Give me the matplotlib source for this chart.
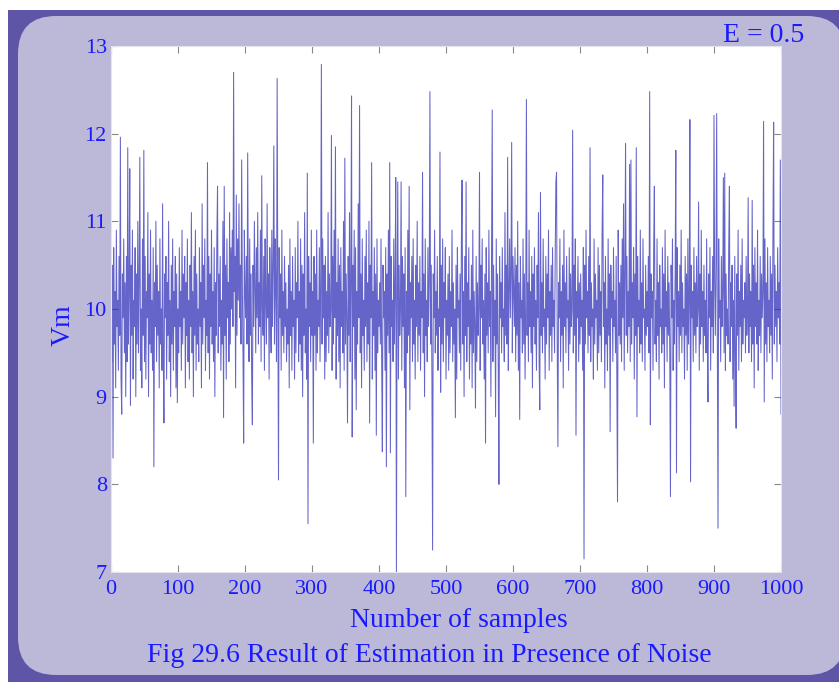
import numpy as np
import matplotlib
matplotlib.use("Agg")
import matplotlib.pyplot as plt
from matplotlib.patches import FancyBboxPatch, Rectangle
from matplotlib.transforms import IdentityTransform

# ---- data: estimated Vm, samples 1..1000 (in blocks of 100) ----
vm_000 = [9.4, 10.5, 8.3, 10.7, 9.6, 10.2, 9.1, 10.9, 9.8, 10.1,
          9.3, 10.6, 9.7, 11.96, 9.2, 8.8, 10.4, 9.9, 10.8, 9.5,
          10.3, 9.0, 10.6, 9.4, 11.84, 9.6, 10.2, 11.6, 8.9, 10.5,
          9.7, 10.9, 9.2, 10.1, 9.8, 10.7, 9.0, 10.4, 9.6, 11.0,
          9.5, 10.3, 11.73, 9.3, 10.0, 9.1, 10.8, 9.7, 11.81, 9.4,
          10.6, 9.2, 10.2, 9.9, 11.1, 9.0, 10.4, 9.6, 10.9, 9.5,
          10.1, 9.3, 10.7, 8.2, 10.3, 9.8, 11.0, 9.4, 10.5, 9.7,
          10.2, 9.1, 10.8, 9.6, 10.0, 9.3, 11.2, 9.5, 8.7, 10.4,
          9.9, 10.6, 9.2, 10.3, 9.7, 11.0, 9.4, 10.1, 9.0, 10.5,
          9.6, 10.8, 9.3, 10.2, 9.8, 10.6, 9.1, 10.4, 8.93, 10.0]
vm_100 = [9.5, 10.7, 9.8, 10.2, 9.3, 10.9, 9.6, 10.4, 9.9, 10.6,
          9.1, 10.3, 9.7, 10.8, 9.4, 10.1, 9.2, 10.5, 9.8, 11.1,
          9.5, 10.2, 9.0, 10.6, 9.7, 10.9, 9.3, 10.4, 9.6, 10.0,
          9.4, 10.7, 9.8, 10.3, 9.1, 11.2, 9.6, 10.5, 9.9, 10.8,
          9.3, 10.1, 9.7, 11.67, 9.5, 10.6, 9.2, 10.4, 9.8, 10.9,
          9.6, 10.2, 9.4, 10.7, 9.0, 10.3, 9.7, 10.8, 11.4, 9.5,
          10.4, 9.8, 10.6, 9.3, 10.1, 9.6, 11.0, 8.76, 11.4, 9.7,
          10.5, 9.2, 10.8, 9.9, 10.3, 9.4, 11.1, 9.6, 10.7, 10.0,
          10.9, 9.8, 12.7, 10.2, 10.6, 9.1, 11.3, 9.7, 10.8, 10.1,
          11.2, 9.9, 10.5, 9.6, 11.7, 10.3, 9.5, 8.47, 10.9, 10.2]
vm_200 = [9.9, 10.6, 9.6, 11.78, 10.1, 9.4, 10.8, 9.7, 10.4, 9.2,
          8.68, 10.5, 9.8, 11.0, 10.2, 9.5, 10.7, 9.9, 11.1, 9.6,
          10.3, 9.8, 10.9, 9.4, 11.52, 10.0, 9.7, 10.6, 9.3, 10.8,
          10.1, 9.6, 11.2, 9.9, 10.4, 9.2, 10.7, 10.0, 9.5, 10.9,
          9.8, 10.5, 11.86, 9.6, 10.8, 10.2, 9.4, 12.63, 10.1, 8.05,
          10.7, 9.9, 10.4, 9.3, 10.9, 9.7, 10.2, 9.5, 10.6, 9.8,
          10.3, 9.4, 10.0, 9.6, 10.5, 9.1, 10.8, 9.7, 10.2, 9.3,
          10.6, 9.8, 10.1, 9.2, 10.7, 9.5, 10.3, 9.9, 11.0, 9.4,
          10.2, 9.6, 10.8, 9.3, 10.5, 9.0, 10.4, 9.7, 11.1, 9.5,
          10.0, 9.2, 11.55, 7.55, 10.6, 9.8, 10.3, 9.4, 10.9, 9.7]
vm_300 = [10.2, 8.47, 10.6, 9.7, 10.4, 9.3, 10.9, 9.5, 10.1, 9.8,
          10.7, 9.4, 10.3, 12.79, 9.6, 10.8, 9.9, 10.5, 9.2, 10.6,
          9.4, 10.2, 9.7, 11.1, 9.5, 10.4, 9.8, 10.0, 11.98, 9.3,
          10.6, 9.6, 10.9, 9.9, 11.85, 9.2, 10.3, 9.7, 10.8, 9.4,
          10.5, 9.1, 10.7, 9.8, 10.2, 9.5, 11.0, 9.3, 11.72, 9.6,
          10.4, 9.9, 8.7, 10.6, 9.7, 11.1, 9.4, 10.3, 12.43, 8.54,
          10.5, 9.8, 10.9, 9.2, 10.7, 8.85, 10.2, 9.6, 11.2, 9.9,
          12.32, 9.5, 10.4, 9.1, 10.8, 9.7, 10.1, 9.3, 10.6, 9.8,
          10.9, 9.4, 10.3, 9.6, 11.0, 8.7, 10.5, 9.9, 11.67, 9.2,
          10.2, 9.7, 10.7, 9.3, 10.4, 8.56, 10.8, 9.5, 10.1, 9.8]
vm_400 = [10.3, 9.6, 10.8, 9.4, 8.37, 10.5, 9.9, 10.2, 9.3, 10.7,
          8.2, 10.4, 9.7, 10.9, 9.5, 11.67, 8.36, 10.6, 9.8, 10.1,
          9.4, 10.8, 9.6, 10.3, 11.5, 7.0, 10.2, 11.45, 9.2, 10.5,
          9.7, 10.0, 11.45, 9.3, 10.6, 9.8, 10.4, 9.1, 10.7, 7.86,
          10.2, 9.5, 10.9, 9.7, 11.4, 8.85, 10.3, 9.9, 10.6, 9.4,
          10.8, 9.6, 10.1, 9.2, 10.5, 9.8, 11.0, 9.4, 10.3, 9.7,
          10.6, 9.3, 10.2, 9.9, 11.56, 9.5, 10.4, 9.0, 10.8, 9.7,
          10.1, 9.4, 10.7, 9.8, 10.3, 12.48, 9.6, 10.5, 9.2, 7.25,
          10.4, 9.9, 10.9, 9.5, 10.2, 9.7, 10.6, 9.3, 10.0, 9.8,
          11.79, 9.05, 10.5, 9.6, 10.8, 9.4, 10.3, 9.9, 10.7, 9.2]
vm_500 = [10.1, 9.7, 10.4, 9.3, 10.6, 9.5, 10.2, 9.8, 10.9, 9.4,
          10.3, 9.6, 10.0, 8.76, 10.5, 9.2, 10.7, 9.9, 10.1, 9.5,
          10.4, 9.3, 10.8, 11.47, 9.6, 10.2, 9.0, 10.6, 9.7, 11.45,
          9.4, 10.3, 9.8, 10.7, 9.2, 10.1, 9.6, 10.5, 9.1, 10.9,
          9.5, 10.2, 9.8, 8.87, 10.6, 9.4, 10.3, 9.7, 10.0, 11.56,
          9.3, 10.5, 9.9, 10.8, 9.6, 10.1, 9.2, 10.4, 8.47, 10.7,
          9.7, 10.3, 9.5, 10.9, 9.8, 10.2, 9.0, 10.6, 12.27, 9.4,
          10.5, 9.7, 10.1, 8.77, 10.8, 9.6, 10.4, 9.3, 8.0, 10.6,
          9.9, 10.3, 9.5, 10.7, 9.8, 10.0, 9.4, 11.1, 9.7, 10.5,
          9.6, 11.73, 9.3, 10.2, 10.8, 9.9, 10.4, 11.9, 9.5, 10.6]
vm_600 = [10.2, 9.8, 10.7, 9.4, 10.5, 9.7, 11.0, 9.3, 10.3, 8.74,
          10.6, 9.9, 10.1, 9.5, 10.8, 9.6, 10.4, 9.2, 10.0, 12.39,
          9.7, 10.3, 9.4, 10.9, 9.8, 10.2, 9.5, 10.6, 9.1, 10.4,
          9.8, 10.7, 9.6, 10.1, 9.3, 10.5, 9.9, 11.1, 9.4, 8.85,
          11.33, 9.7, 10.3, 9.5, 10.8, 9.8, 10.0, 9.2, 10.6, 9.6,
          10.4, 9.9, 10.9, 9.3, 10.2, 9.7, 10.5, 9.4, 10.7, 9.8,
          10.1, 9.5, 10.6, 11.45, 11.56, 9.6, 8.43, 10.3, 9.9, 10.8,
          9.4, 10.2, 9.7, 10.5, 9.1, 10.9, 9.8, 10.3, 9.5, 10.6,
          9.9, 10.1, 9.3, 10.7, 9.6, 10.4, 9.8, 10.0, 12.04, 9.5,
          10.5, 9.7, 10.8, 8.56, 10.2, 9.9, 10.6, 9.4, 10.3, 9.6]
vm_700 = [10.4, 9.8, 10.1, 9.3, 10.7, 7.15, 10.5, 9.6, 10.9, 9.9,
          10.2, 9.5, 10.6, 9.7, 11.84, 9.4, 10.3, 9.8, 10.0, 9.2,
          10.8, 9.6, 10.4, 9.9, 10.1, 9.3, 10.7, 9.5, 10.5, 9.7,
          10.2, 9.4, 10.9, 11.53, 9.8, 10.3, 9.1, 10.6, 9.6, 10.0,
          9.3, 10.8, 9.7, 10.4, 8.6, 10.5, 9.9, 10.2, 9.4, 10.7,
          9.8, 10.1, 9.5, 10.6, 9.2, 7.8, 10.9, 9.7, 10.3, 9.6,
          10.5, 9.4, 10.8, 9.9, 11.2, 9.3, 10.4, 11.89, 9.7, 10.6,
          9.5, 10.2, 9.8, 11.65, 9.4, 11.7, 9.6, 10.3, 9.9, 10.7,
          9.2, 10.4, 9.7, 11.84, 8.77, 10.6, 9.8, 10.1, 9.5, 10.9,
          9.6, 10.3, 9.4, 10.8, 9.9, 10.0, 9.3, 10.5, 9.7, 10.2]
vm_800 = [9.8, 10.6, 9.5, 12.48, 8.68, 10.4, 9.9, 10.2, 9.3, 10.7,
          11.4, 9.6, 10.1, 9.4, 10.8, 9.7, 10.3, 9.2, 10.5, 9.8,
          10.0, 9.5, 10.7, 9.6, 10.4, 9.1, 10.9, 9.8, 10.2, 9.4,
          10.6, 9.7, 10.3, 9.5, 7.86, 10.5, 9.9, 10.8, 9.3, 10.1,
          9.6, 10.4, 11.81, 8.13, 10.7, 9.8, 10.2, 9.4, 10.5, 9.7,
          10.9, 9.5, 10.3, 9.8, 10.0, 9.2, 10.6, 9.7, 10.4, 9.3,
          10.8, 9.6, 10.1, 12.16, 8.03, 10.5, 9.9, 10.2, 9.4, 10.7,
          9.7, 10.3, 9.5, 10.6, 9.8, 10.0, 11.22, 9.3, 10.4, 9.6,
          10.9, 9.8, 10.2, 9.4, 10.5, 9.7, 10.1, 9.5, 10.8, 9.6,
          8.94, 10.4, 9.9, 10.7, 9.3, 10.2, 9.8, 10.6, 9.5, 12.21]
vm_900 = [10.3, 9.7, 10.5, 12.23, 9.6, 7.5, 10.8, 9.9, 10.1, 9.4,
          10.6, 9.8, 10.2, 11.5, 9.5, 11.55, 9.3, 10.4, 9.7, 10.0,
          9.6, 10.7, 11.4, 9.4, 10.3, 9.8, 10.5, 9.2, 10.1, 8.89,
          10.6, 9.5, 8.64, 10.4, 9.7, 10.9, 9.3, 10.2, 9.8, 10.5,
          9.4, 10.8, 9.6, 10.1, 9.9, 10.3, 9.5, 10.6, 9.7, 10.0,
          11.27, 9.5, 10.4, 9.8, 10.2, 9.4, 11.24, 9.6, 10.5, 9.1,
          10.7, 9.8, 10.3, 9.6, 10.9, 9.3, 10.1, 9.7, 10.6, 9.5,
          10.4, 9.9, 10.2, 12.14, 8.94, 10.8, 9.6, 10.3, 9.4, 10.7,
          9.8, 10.1, 9.5, 10.6, 9.7, 10.4, 9.2, 10.9, 12.13, 9.6,
          10.5, 9.8, 10.2, 9.4, 10.7, 9.9, 10.3, 9.6, 11.7, 8.8]

xticks = [0, 100, 200, 300, 400, 500, 600, 700, 800, 900, 1000]
yticks = [7, 8, 9, 10, 11, 12, 13]
xlabel = "Number of samples"
ylabel = "Vm"
caption = "Fig 29.6 Result of Estimation in Presence of Noise"
note = "E = 0.5"

vm = np.array(vm_000 + vm_100 + vm_200 + vm_300 + vm_400 +
              vm_500 + vm_600 + vm_700 + vm_800 + vm_900)
samples = np.arange(1, len(vm) + 1)

# ---- styling ----
W, H = 839, 682
BLUE = "#1a1aff"
FONT = ["Liberation Serif", "DejaVu Serif"]
plt.rcParams["font.family"] = FONT

fig = plt.figure(figsize=(W / 100, H / 100), dpi=100)
fig.patch.set_facecolor("white")

# dark outer frame and lavender rounded panel (pixel coordinates)
frame = Rectangle((8, -10), 860, (H - 10) + 10, facecolor="#5e55a6",
                  edgecolor="none", transform=IdentityTransform(), zorder=0)
fig.add_artist(frame)
panel = FancyBboxPatch((18, H - 675), 827, 675 - 16,
                       boxstyle="round,pad=0,rounding_size=38",
                       facecolor="#bcb8d8", edgecolor="none",
                       transform=IdentityTransform(), zorder=0.5)
fig.add_artist(panel)

ax = fig.add_axes([111 / W, (H - 572) / H, 670 / W, 526 / H], zorder=2)
ax.set_facecolor("white")
ax.plot(samples, vm, color="#2a2ab5", lw=0.75, alpha=0.72)

ax.set_xlim(0, 1000)
ax.set_ylim(7, 13)
ax.set_xticks(xticks)
ax.set_yticks(yticks)
ax.set_xticklabels([str(t) for t in xticks])
ax.set_yticklabels([str(t) for t in yticks])
ax.tick_params(direction="in", length=5, width=0.8, color="#888888",
               top=True, right=True, labelcolor=BLUE, labelsize=16)
ax.tick_params(axis="x", pad=6)
ax.tick_params(axis="y", pad=3)
for s in ax.spines.values():
    s.set_color("#e4e4ec")
    s.set_linewidth(0.8)

fig.text(459 / W, (H - 627) / H, xlabel, ha="center", va="baseline",
         color=BLUE, fontsize=20)
fig.text(63 / W, 1 - 325 / H, ylabel, ha="center", va="center",
         rotation=90, color=BLUE, fontsize=20)
fig.text(429.5 / W, (H - 662) / H, caption, ha="center", va="baseline",
         color=BLUE, fontsize=20)
fig.text(764 / W, (H - 42) / H, note, ha="center", va="baseline",
         color=BLUE, fontsize=20)

fig.savefig("out.png", dpi=100)
